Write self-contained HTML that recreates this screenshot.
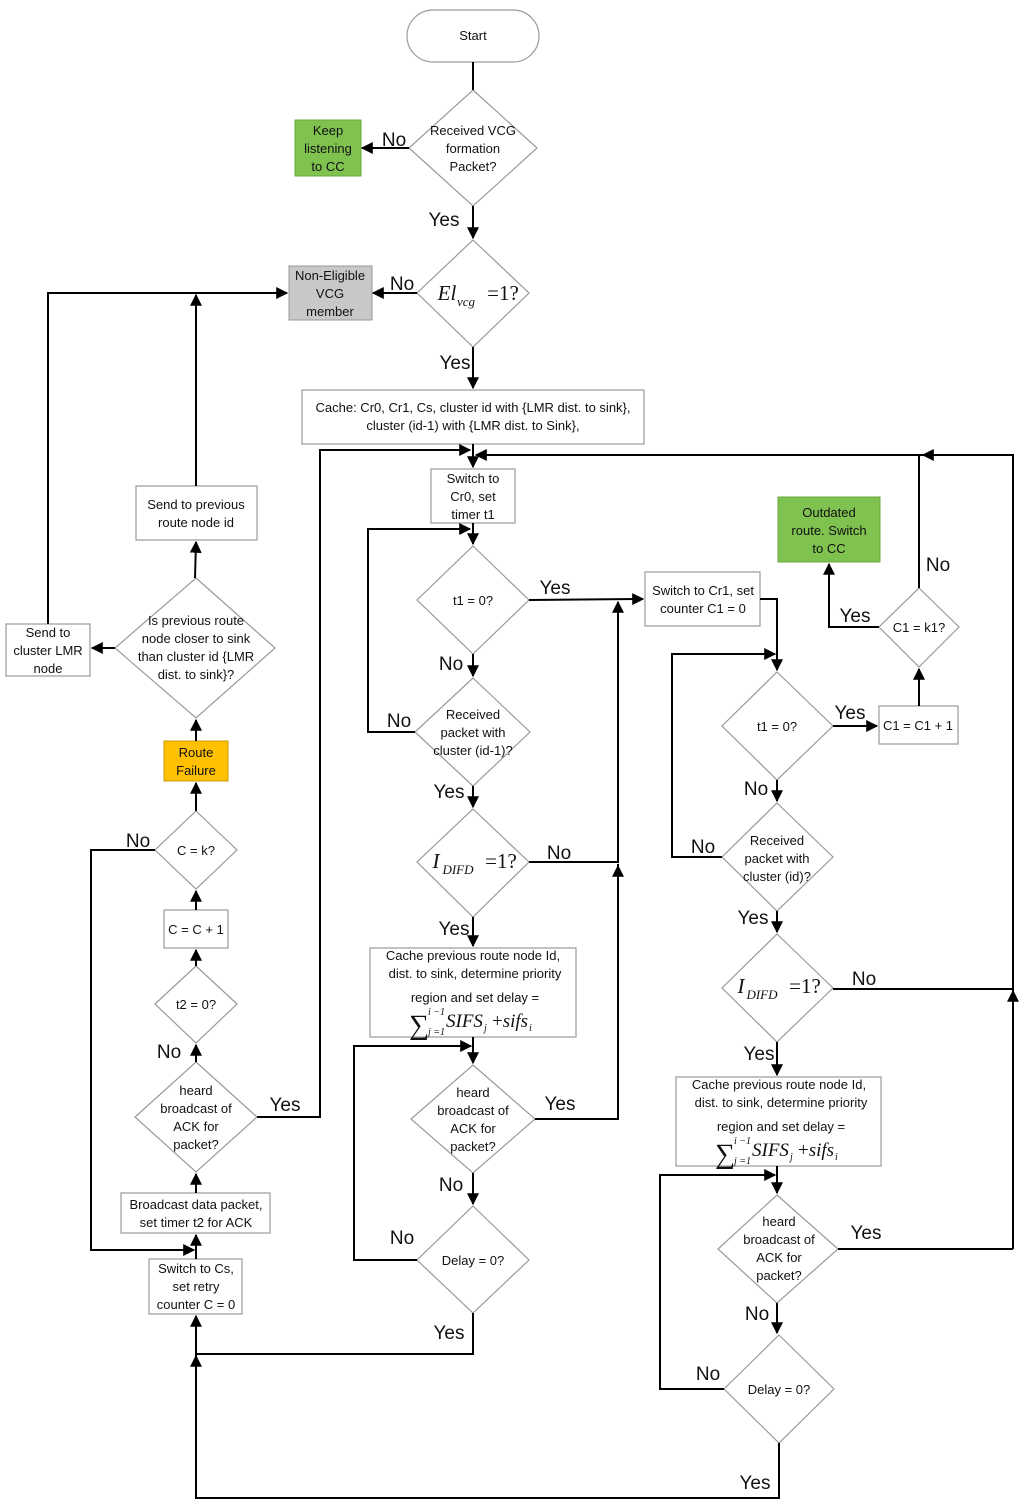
<!DOCTYPE html>
<html><head><meta charset="utf-8"><style>
body{margin:0;background:#fff}
svg{display:block}
text{font-family:"Liberation Sans",sans-serif;font-size:13px;fill:#111;text-anchor:middle}
.l{font-size:19px}
.m{font-family:"Liberation Serif",serif;font-style:italic;font-size:21px}
.s{stroke:#999;stroke-width:1.2;fill:#fff}
.c{stroke:#000;stroke-width:2;fill:none}
.sg{font-family:"Liberation Serif",serif;font-size:28px;text-anchor:start}
.sm{font-family:"Liberation Serif",serif;font-size:10px;font-style:italic;text-anchor:start}
.sf{font-family:"Liberation Serif",serif;font-size:19px;font-style:italic;text-anchor:start}
</style></head><body>
<svg width="1024" height="1506" viewBox="0 0 1024 1506" xmlns="http://www.w3.org/2000/svg">
<defs><marker id="a" viewBox="0 0 10 10" refX="9" refY="5" markerWidth="6" markerHeight="6" orient="auto"><path d="M0,0L10,5L0,10z" fill="#000"/></marker></defs>

<rect class="s" x="407" y="10" width="132" height="52" rx="26"/>
<text x="473" y="40">Start</text>
<polygon class="s" points="473,90 537,148 473,206 409,148"/>
<text x="473" y="135">Received VCG</text><text x="473" y="153">formation</text><text x="473" y="171">Packet?</text>
<rect x="295" y="120" width="66" height="56" fill="#80c250" stroke="#6aa840"/>
<text x="328" y="135">Keep</text><text x="328" y="153">listening</text><text x="328" y="171">to CC</text>
<polygon class="s" points="473,240 529,293 473,347 417,293"/>
<text x="447" y="300" class="m">El</text><text x="466" y="306" class="m" style="font-size:13px">vcg</text><text x="503" y="300" class="m" style="font-style:normal">=1?</text>
<rect x="289" y="266" width="83" height="54" fill="#c8c8c8" stroke="#999"/>
<text x="330" y="280">Non-Eligible</text><text x="330" y="298">VCG</text><text x="330" y="316">member</text>
<rect class="s" x="302" y="390" width="342" height="54"/>
<text x="473" y="412">Cache: Cr0, Cr1, Cs, cluster id with {LMR dist. to sink},</text>
<text x="473" y="430">cluster (id-1) with {LMR dist. to Sink},</text>
<rect class="s" x="431" y="469" width="84" height="54"/>
<text x="473" y="483">Switch to</text><text x="473" y="501">Cr0, set</text><text x="473" y="519">timer t1</text>
<polygon class="s" points="473,546 529,600 473,654 417,600"/>
<text x="473" y="605">t1 = 0?</text>
<polygon class="s" points="473,678 530,732 473,786 415,732"/>
<text x="473" y="719">Received</text><text x="473" y="737">packet with</text><text x="473" y="755">cluster (id-1)?</text>
<polygon class="s" points="473,809 529,862 473,917 417,862"/>
<text x="436" y="868" class="m">I</text><text x="458" y="874" class="m" style="font-size:13px">DIFD</text><text x="501" y="868" class="m" style="font-style:normal">=1?</text>
<rect class="s" x="370" y="948" width="206" height="89"/>
<text x="473" y="960">Cache previous route node Id,</text>
<text x="475" y="978">dist. to sink, determine priority</text>
<text x="475" y="1002">region and set delay =</text>
<text class="sg" x="409" y="1034">∑</text><text class="sm" x="428" y="1015">i −1</text><text class="sm" x="428" y="1035">j =1</text>
<text class="sf" x="446" y="1027">SIFS</text><text class="sm" x="484" y="1031">j</text><text class="sf" x="492" y="1027" style="font-style:normal">+<tspan font-style="italic">sifs</tspan></text><text class="sm" x="529" y="1031">i</text>
<polygon class="s" points="473,1065 535,1119 473,1173 411,1119"/>
<text x="473" y="1097">heard</text><text x="473" y="1115">broadcast of</text><text x="473" y="1133">ACK for</text><text x="473" y="1151">packet?</text>
<polygon class="s" points="473,1206 529,1260 473,1313 417,1260"/>
<text x="473" y="1265">Delay = 0?</text>

<rect class="s" x="136" y="486" width="121" height="54"/>
<text x="196" y="509">Send to previous</text><text x="196" y="527">route node id</text>
<polygon class="s" points="196,578 275,648 196,718 115,648"/>
<text x="196" y="625">Is previous route</text><text x="196" y="643">node closer to sink</text><text x="196" y="661">than cluster id {LMR</text><text x="196" y="679">dist. to sink}?</text>
<rect class="s" x="6" y="624" width="84" height="52"/>
<text x="48" y="637">Send to</text><text x="48" y="655">cluster LMR</text><text x="48" y="673">node</text>
<rect x="164" y="741" width="64" height="40" fill="#ffc000" stroke="#c9a000"/>
<text x="196" y="757">Route</text><text x="196" y="775">Failure</text>
<polygon class="s" points="196,811 237,850 196,889 155,850"/>
<text x="196" y="855">C = k?</text>
<rect class="s" x="164" y="910" width="64" height="38"/>
<text x="196" y="934">C = C + 1</text>
<polygon class="s" points="196,966 237,1004 196,1043 155,1004"/>
<text x="196" y="1009">t2 = 0?</text>
<polygon class="s" points="196,1062 257,1117 196,1172 135,1117"/>
<text x="196" y="1095">heard</text><text x="196" y="1113">broadcast of</text><text x="196" y="1131">ACK for</text><text x="196" y="1149">packet?</text>
<rect class="s" x="121" y="1193" width="149" height="40"/>
<text x="196" y="1209">Broadcast data packet,</text><text x="196" y="1227">set timer t2 for ACK</text>
<rect class="s" x="149" y="1259" width="93" height="55"/>
<text x="196" y="1273">Switch to Cs,</text><text x="196" y="1291">set retry</text><text x="196" y="1309">counter C = 0</text>

<rect class="s" x="645" y="572" width="115" height="54"/>
<text x="703" y="595">Switch to Cr1, set</text><text x="703" y="613">counter C1 = 0</text>
<rect x="778" y="497" width="102" height="65" fill="#80c250" stroke="#6aa840"/>
<text x="829" y="517">Outdated</text><text x="829" y="535">route. Switch</text><text x="829" y="553">to CC</text>
<polygon class="s" points="919,588 959,627 919,667 879,627"/>
<text x="919" y="632">C1 = k1?</text>
<rect class="s" x="879" y="706" width="79" height="38"/>
<text x="918" y="730">C1 = C1 + 1</text>
<polygon class="s" points="777,672 833,726 777,780 722,726"/>
<text x="777" y="731">t1 = 0?</text>
<polygon class="s" points="777,803 833,857 777,911 722,857"/>
<text x="777" y="845">Received</text><text x="777" y="863">packet with</text><text x="777" y="881">cluster (id)?</text>
<polygon class="s" points="777,934 833,988 777,1042 722,988"/>
<text x="741" y="993" class="m">I</text><text x="762" y="999" class="m" style="font-size:13px">DIFD</text><text x="805" y="993" class="m" style="font-style:normal">=1?</text>
<rect class="s" x="676" y="1077" width="205" height="89"/>
<text x="779" y="1089">Cache previous route node Id,</text>
<text x="781" y="1107">dist. to sink, determine priority</text>
<text x="781" y="1131">region and set delay =</text>
<text class="sg" x="715" y="1163">∑</text><text class="sm" x="734" y="1144">i −1</text><text class="sm" x="734" y="1164">j =1</text>
<text class="sf" x="752" y="1156">SIFS</text><text class="sm" x="790" y="1160">j</text><text class="sf" x="798" y="1156" style="font-style:normal">+<tspan font-style="italic">sifs</tspan></text><text class="sm" x="835" y="1160">i</text>
<polygon class="s" points="777,1195 838,1249 777,1303 718,1249"/>
<text x="779" y="1226">heard</text><text x="779" y="1244">broadcast of</text><text x="779" y="1262">ACK for</text><text x="779" y="1280">packet?</text>
<polygon class="s" points="779,1335 834,1389 779,1443 724,1389"/>
<text x="779" y="1394">Delay = 0?</text>

<g class="c">
<path d="M473,62V90"/>
<path d="M473,206V238" marker-end="url(#a)"/>
<path d="M409,148H362" marker-end="url(#a)"/>
<path d="M417,293H373" marker-end="url(#a)"/>
<path d="M473,347V388" marker-end="url(#a)"/>
<path d="M473,444V467" marker-end="url(#a)"/>
<path d="M257,1117H320V450H470" marker-end="url(#a)"/>
<path d="M1013,1249V455H476" marker-end="url(#a)"/>
<path d="M919,588V455"/>
<path d="M838,1249H1013"/>
<path d="M833,989H1013"/>
<path d="M1013,1010V991" marker-end="url(#a)"/>
<path d="M473,523V544" marker-end="url(#a)"/>
<path d="M529,600L643,599" marker-end="url(#a)"/>
<path d="M473,654V676" marker-end="url(#a)"/>
<path d="M415,732H368V529H470" marker-end="url(#a)"/>
<path d="M473,786V807" marker-end="url(#a)"/>
<path d="M529,862H618V602" marker-end="url(#a)"/>
<path d="M535,1119H618V864"/>
<path d="M618,880V866" marker-end="url(#a)"/>
<path d="M473,917V946" marker-end="url(#a)"/>
<path d="M473,1037V1063" marker-end="url(#a)"/>
<path d="M417,1260H354V1046H471" marker-end="url(#a)"/>
<path d="M473,1173V1204" marker-end="url(#a)"/>
<path d="M473,1313V1354H196"/>
<path d="M779,1443V1498H196V1356" marker-end="url(#a)"/>
<path d="M196,1356V1316" marker-end="url(#a)"/>
<path d="M196,1259V1235" marker-end="url(#a)"/>
<path d="M155,850H91V1250H194" marker-end="url(#a)"/>
<path d="M196,1193V1174" marker-end="url(#a)"/>
<path d="M196,1062V1045" marker-end="url(#a)"/>
<path d="M196,966V950" marker-end="url(#a)"/>
<path d="M196,910V891" marker-end="url(#a)"/>
<path d="M196,811V783" marker-end="url(#a)"/>
<path d="M196,741V720" marker-end="url(#a)"/>
<path d="M195,578L196,542" marker-end="url(#a)"/>
<path d="M196,486V295" marker-end="url(#a)"/>
<path d="M48,624V293H287" marker-end="url(#a)"/>
<path d="M115,648H92" marker-end="url(#a)"/>
<path d="M760,599H777V670" marker-end="url(#a)"/>
<path d="M833,726H877" marker-end="url(#a)"/>
<path d="M777,780V801" marker-end="url(#a)"/>
<path d="M722,857H672V654H775" marker-end="url(#a)"/>
<path d="M777,911V932" marker-end="url(#a)"/>
<path d="M777,1042V1075" marker-end="url(#a)"/>
<path d="M777,1166V1193" marker-end="url(#a)"/>
<path d="M724,1389H660V1175H775" marker-end="url(#a)"/>
<path d="M777,1303V1333" marker-end="url(#a)"/>
<path d="M919,706V669" marker-end="url(#a)"/>
<path d="M879,627H829V564" marker-end="url(#a)"/>
<path d="M935,455H923" marker-end="url(#a)"/>
</g>

<g>
<text class="l" x="394" y="146">No</text>
<text class="l" x="444" y="226">Yes</text>
<text class="l" x="402" y="290">No</text>
<text class="l" x="455" y="369">Yes</text>
<text class="l" x="555" y="594">Yes</text>
<text class="l" x="451" y="670">No</text>
<text class="l" x="399" y="727">No</text>
<text class="l" x="449" y="798">Yes</text>
<text class="l" x="559" y="859">No</text>
<text class="l" x="454" y="935">Yes</text>
<text class="l" x="560" y="1110">Yes</text>
<text class="l" x="451" y="1191">No</text>
<text class="l" x="402" y="1244">No</text>
<text class="l" x="449" y="1339">Yes</text>
<text class="l" x="285" y="1111">Yes</text>
<text class="l" x="138" y="847">No</text>
<text class="l" x="169" y="1058">No</text>
<text class="l" x="938" y="571">No</text>
<text class="l" x="855" y="622">Yes</text>
<text class="l" x="850" y="719">Yes</text>
<text class="l" x="756" y="795">No</text>
<text class="l" x="703" y="853">No</text>
<text class="l" x="753" y="924">Yes</text>
<text class="l" x="864" y="985">No</text>
<text class="l" x="759" y="1060">Yes</text>
<text class="l" x="866" y="1239">Yes</text>
<text class="l" x="757" y="1320">No</text>
<text class="l" x="708" y="1380">No</text>
<text class="l" x="755" y="1489">Yes</text>
</g>
</svg>
</body></html>
